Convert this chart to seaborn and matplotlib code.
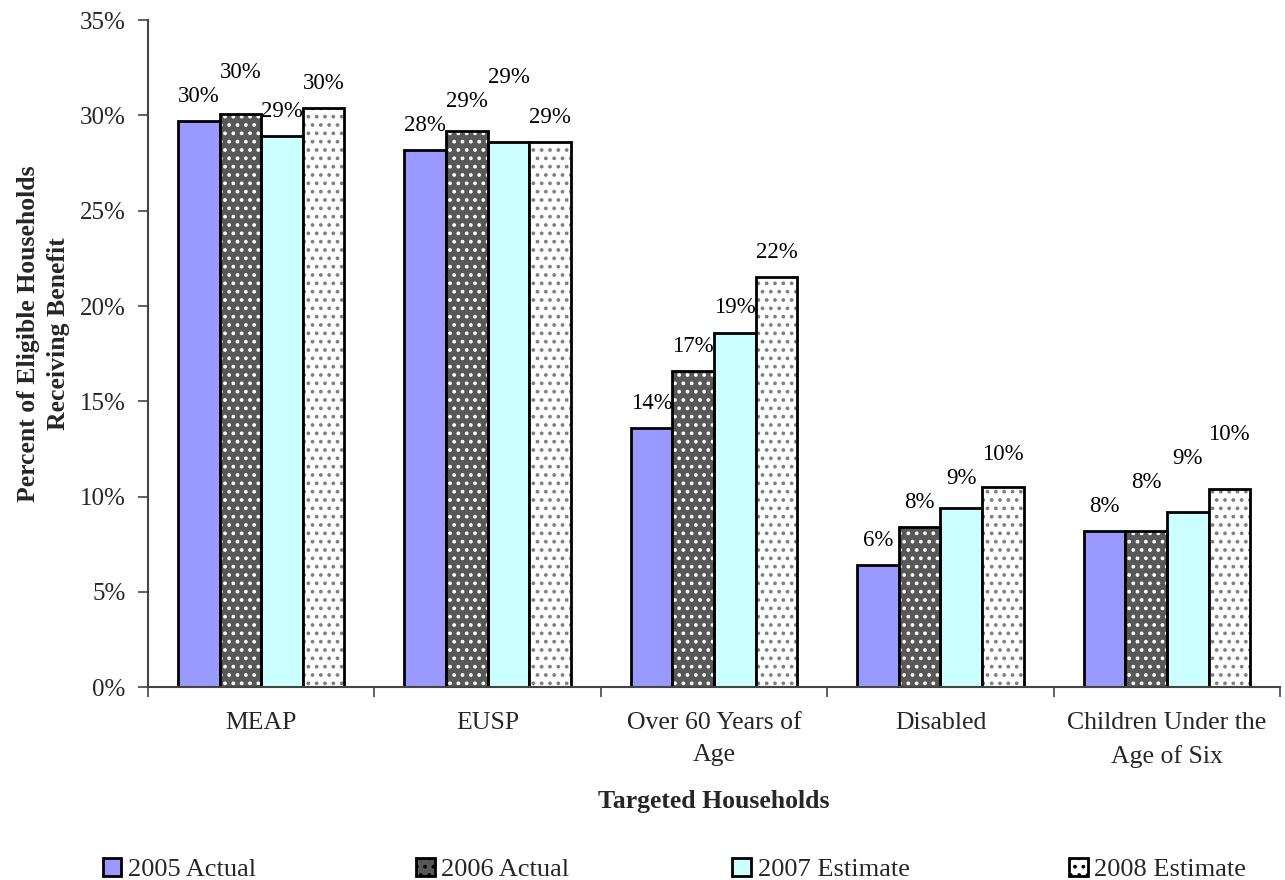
import matplotlib
matplotlib.use("Agg")
import matplotlib.pyplot as plt
from matplotlib.patches import Rectangle, Patch
import seaborn as sns
import pandas as pd

# Data
categories = ["MEAP", "EUSP", "Over 60 Years of Age", "Disabled", "Children Under the Age of Six"]
tick_labels = ["MEAP", "EUSP", "Over 60 Years of\nAge", "Disabled", "Children Under the\nAge of Six"]
series = ["2005 Actual", "2006 Actual", "2007 Estimate", "2008 Estimate"]
values_2005 = [29.7, 28.2, 13.6, 6.4, 8.2]
values_2006 = [30.1, 29.2, 16.6, 8.4, 8.2]
values_2007 = [28.9, 28.6, 18.6, 9.4, 9.2]
values_2008 = [30.4, 28.6, 21.5, 10.5, 10.4]
y_ticks = [0, 5, 10, 15, 20, 25, 30, 35]

all_values = [values_2005, values_2006, values_2007, values_2008]
df = pd.DataFrame(
    [(c, s, v) for s, vals in zip(series, all_values) for c, v in zip(categories, vals)],
    columns=["category", "series", "value"],
)

face_colors = ["#9999FF", "#585858", "#CCFFFF", "#FFFFFF"]
dot_colors = [None, "#FFFFFF", None, "#808080"]

sns.set_theme(style="white")
plt.rcParams["font.family"] = ["Liberation Serif", "DejaVu Serif"]
plt.rcParams["hatch.linewidth"] = 1.5

fig = plt.figure(figsize=(12.85, 8.8), dpi=100)
ax = fig.add_axes([0.1152, 0.2193, 0.881, 0.7577])

sns.barplot(
    data=df, x="category", y="value", hue="series", order=categories,
    hue_order=series, palette=face_colors, width=0.735, gap=0,
    edgecolor="black", linewidth=2, saturation=1, legend=False, ax=ax,
)

# Dotted fills: hatch drawn in the dot colour, then a black outline on top
for container, dc in zip(ax.containers, dot_colors):
    for bar in container:
        if dc is not None:
            bar.set_hatch("..")
            bar.set_edgecolor(dc)
            bar.set_linewidth(0)
            ax.add_patch(Rectangle(bar.get_xy(), bar.get_width(), bar.get_height(),
                                   fill=False, edgecolor="black", linewidth=2, zorder=bar.get_zorder() + 0.1))

# Value labels, lifted when they would collide with the neighbouring label
offset = 1.3
min_gap = 1.25
for ci, cat in enumerate(categories):
    prev_y = None
    for si, container in enumerate(ax.containers):
        bar = container[ci]
        v = all_values[si][ci]
        y = v + offset
        if prev_y is not None and abs(y - prev_y) < min_gap:
            y = prev_y + min_gap
        prev_y = y
        ax.text(bar.get_x() + bar.get_width() / 2, y, f"{v:.0f}%",
                ha="center", va="center", fontsize=16.5, color="black")

ax.set_xlim(-0.5, len(categories) - 0.5)
ax.set_ylim(0, 35)
ax.set_yticks(y_ticks)
ax.set_yticklabels([f"{t}%" for t in y_ticks], fontsize=18)
ax.set_xticks(range(len(categories)))
ax.set_xticklabels(tick_labels, fontsize=18.5, linespacing=1.6)
ax.set_xticks([i - 0.5 for i in range(len(categories) + 1)], minor=True)
ax.tick_params(axis="x", which="major", length=0, pad=18)
ax.tick_params(axis="x", which="minor", length=7, width=1.2, color="#444444", direction="out", bottom=True)
ax.tick_params(axis="y", which="major", length=7, width=1.2, color="#444444", direction="out", left=True, pad=9)

for side in ["top", "right"]:
    ax.spines[side].set_visible(False)
for side in ["left", "bottom"]:
    ax.spines[side].set_color("#444444")
    ax.spines[side].set_linewidth(1.5)

ax.set_xlabel("Targeted Households", fontsize=18.5, fontweight="bold", labelpad=16)
ax.set_ylabel("Percent of Eligible Households\nReceiving Benefit", fontsize=18.5,
              fontweight="bold", linespacing=1.4)
ax.yaxis.set_label_coords(-0.069, 0.53)

# Legend entries spread across the bottom of the figure
legend_x = [0.080, 0.324, 0.570, 0.832]
for i, (s, fc, dc) in enumerate(zip(series, face_colors, dot_colors)):
    h = Patch(facecolor=fc, edgecolor="black", linewidth=2)
    leg = fig.legend(handles=[h], labels=[s], loc="center left",
                     bbox_to_anchor=(legend_x[i], 0.012), frameon=False,
                     fontsize=19, handlelength=0.7, handleheight=0.7,
                     handletextpad=0.25, borderpad=0, borderaxespad=0)
    if dc is not None:
        leg.legend_handles[0].set_hatch("..")

fig.savefig("out.png", dpi=100)
